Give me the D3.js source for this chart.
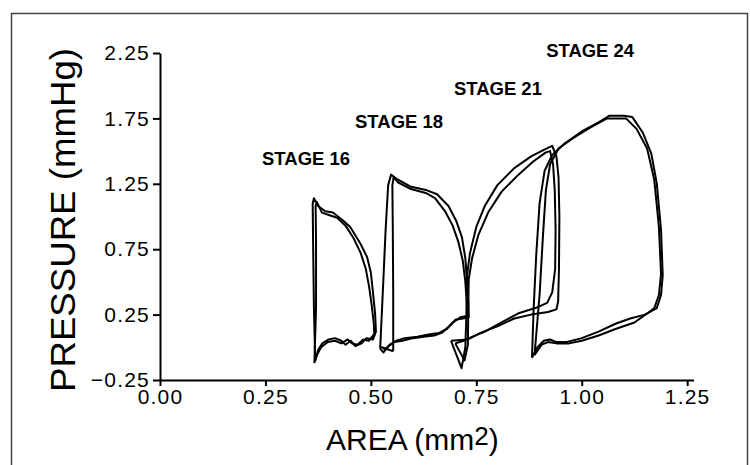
<!DOCTYPE html>
<html>
<head>
<meta charset="utf-8">
<script src="https://cdn.jsdelivr.net/npm/d3@7"></script>
<style>
  body { margin: 0; background: #fff; }
  svg { display: block; }
  .tick text { font-family: "Liberation Sans", Arial, sans-serif; font-size: 21px; letter-spacing: 1.2px; }
</style>
</head>
<body>
<div id="chart"></div>
<script>
// values: [area (mm2), pressure (mmHg)]
const stage16a = [[0.368,-0.10],[0.365,0.30],[0.363,0.80],[0.362,1.10],[0.365,1.14],[0.375,1.08],[0.392,1.04],[0.410,1.03],[0.434,0.97],[0.451,0.92],[0.474,0.80],[0.491,0.69],[0.500,0.57],[0.505,0.42],[0.510,0.26],[0.512,0.12],[0.505,0.06],[0.490,0.07],[0.478,0.03],[0.463,0.01],[0.452,0.05],[0.440,0.02],[0.430,0.05],[0.415,0.07],[0.400,0.06],[0.385,0.03],[0.375,-0.02],[0.368,-0.10]];
const stage16b = [[0.366,-0.12],[0.370,0.30],[0.370,0.80],[0.369,1.08],[0.372,1.11],[0.384,1.03],[0.402,1.01],[0.420,0.99],[0.440,0.93],[0.458,0.84],[0.476,0.72],[0.488,0.60],[0.496,0.46],[0.502,0.32],[0.507,0.18],[0.508,0.10],[0.495,0.05],[0.482,0.06],[0.468,0.02],[0.455,0.03],[0.445,0.06],[0.430,0.03],[0.415,0.05],[0.398,0.04],[0.382,0.00],[0.372,-0.06],[0.366,-0.12]];

const stage18a = [[0.522,-0.01],[0.528,0.40],[0.535,0.90],[0.541,1.24],[0.548,1.32],[0.560,1.29],[0.593,1.23],[0.633,1.20],[0.657,1.17],[0.684,1.08],[0.702,0.97],[0.716,0.84],[0.724,0.68],[0.728,0.50],[0.731,0.35],[0.732,0.23],[0.718,0.22],[0.700,0.21],[0.685,0.16],[0.668,0.11],[0.650,0.09],[0.625,0.08],[0.600,0.07],[0.575,0.05],[0.555,0.04],[0.538,0.00],[0.530,-0.04],[0.522,-0.01]];
const stage18b = [[0.553,-0.03],[0.553,0.40],[0.552,0.90],[0.551,1.24],[0.554,1.30],[0.565,1.26],[0.595,1.21],[0.630,1.18],[0.652,1.14],[0.676,1.04],[0.694,0.93],[0.708,0.80],[0.718,0.66],[0.724,0.50],[0.727,0.36],[0.728,0.24],[0.712,0.23],[0.695,0.19],[0.680,0.14],[0.662,0.11],[0.640,0.10],[0.610,0.08],[0.580,0.07],[0.560,0.05],[0.545,0.02],[0.535,-0.02],[0.526,0.00],[0.553,-0.03]];

const stage21a = [[0.690,0.05],[0.715,-0.16],[0.724,0.00],[0.727,0.30],[0.728,0.55],[0.735,0.72],[0.750,0.92],[0.770,1.08],[0.800,1.24],[0.840,1.37],[0.880,1.46],[0.910,1.51],[0.930,1.54],[0.940,1.46],[0.945,1.30],[0.947,1.00],[0.946,0.60],[0.944,0.35],[0.940,0.29],[0.920,0.27],[0.880,0.25],[0.840,0.22],[0.800,0.16],[0.760,0.11],[0.730,0.06],[0.690,0.05]];
const stage21b = [[0.700,0.03],[0.722,-0.10],[0.730,0.02],[0.731,0.30],[0.732,0.52],[0.740,0.68],[0.755,0.86],[0.778,1.03],[0.810,1.19],[0.850,1.32],[0.885,1.42],[0.915,1.49],[0.925,1.50],[0.932,1.40],[0.936,1.20],[0.938,0.90],[0.937,0.60],[0.930,0.42],[0.918,0.34],[0.890,0.30],[0.850,0.26],[0.810,0.19],[0.770,0.12],[0.740,0.08],[0.720,0.05],[0.700,0.03]];

const stage24a = [[0.882,-0.08],[0.886,0.30],[0.892,0.70],[0.900,1.10],[0.912,1.35],[0.930,1.47],[0.960,1.56],[1.000,1.65],[1.040,1.72],[1.065,1.77],[1.100,1.77],[1.120,1.76],[1.145,1.64],[1.165,1.48],[1.178,1.25],[1.188,0.90],[1.192,0.55],[1.188,0.40],[1.178,0.30],[1.150,0.25],[1.115,0.22],[1.080,0.18],[1.040,0.12],[1.000,0.07],[0.965,0.04],[0.940,0.04],[0.925,0.06],[0.910,0.05],[0.895,0.00],[0.882,-0.08]];
const stage24b = [[0.888,-0.06],[0.900,0.40],[0.908,0.85],[0.915,1.20],[0.925,1.40],[0.945,1.52],[0.980,1.60],[1.020,1.68],[1.060,1.75],[1.105,1.75],[1.130,1.67],[1.155,1.52],[1.172,1.28],[1.183,0.92],[1.188,0.56],[1.183,0.40],[1.172,0.30],[1.160,0.27],[1.125,0.19],[1.080,0.14],[1.040,0.09],[1.000,0.05],[0.970,0.03],[0.940,0.03],[0.920,0.04],[0.905,0.02],[0.888,-0.06]];

const traces = [stage16a, stage16b, stage18a, stage18b, stage21a, stage21b, stage24a, stage24b];

const stageNames = ["STAGE 16", "STAGE 18", "STAGE 21", "STAGE 24"];
const labelAnchors = [[0.242,1.394],[0.4625,1.677],[0.697,1.929],[0.9156,2.219]];

const xTicks = [0, 0.25, 0.5, 0.75, 1.0, 1.25];
const yTicks = [-0.25, 0.25, 0.75, 1.25, 1.75, 2.25];

const W = 750, H = 465;

const svg = d3.select("#chart").append("svg")
    .attr("width", W)
    .attr("height", H);

// outer frame
svg.append("rect")
    .attr("x", 11.5).attr("y", 13.5)
    .attr("width", 736).attr("height", 470)
    .attr("fill", "none")
    .attr("stroke", "#444")
    .attr("stroke-width", 1.5);

const x = d3.scaleLinear().domain([0, 1.265]).range([160, 693.5]);
const y = d3.scaleLinear().domain([-0.25, 2.25]).range([380, 53]);

const xAxis = d3.axisBottom(x).tickValues(xTicks).tickFormat(d3.format(".2f")).tickSizeInner(6).tickSizeOuter(0).tickPadding(3);
const yAxis = d3.axisLeft(y).tickValues(yTicks).tickFormat(d3.format(".2f")).tickSizeInner(7).tickSizeOuter(0).tickPadding(3);

const gx = svg.append("g")
    .attr("transform", `translate(0,${y(-0.25)})`)
    .call(xAxis);
const gy = svg.append("g")
    .attr("transform", `translate(${x(0)},0)`)
    .call(yAxis);

[gx, gy].forEach(g => {
    g.selectAll("path, line").attr("stroke", "#000").attr("stroke-width", 2);
    g.selectAll("text").attr("fill", "#000");
});

// loops
const line = d3.line().x(d => x(d[0])).y(d => y(d[1])).curve(d3.curveLinear);
svg.append("g").selectAll("path")
    .data(traces)
    .enter()
    .append("path")
    .attr("d", line)
    .attr("fill", "none")
    .attr("stroke", "#000")
    .attr("stroke-width", 2)
    .attr("stroke-linejoin", "round");

// stage labels
svg.append("g").selectAll("text")
    .data(stageNames)
    .enter()
    .append("text")
    .attr("x", (d, i) => x(labelAnchors[i][0]))
    .attr("y", (d, i) => y(labelAnchors[i][1]))
    .attr("font-family", "'Liberation Sans Narrow', 'Liberation Sans', Arial, sans-serif")
    .attr("font-size", 18)
    .attr("font-weight", "bold")
    .attr("textLength", 88)
    .attr("lengthAdjust", "spacingAndGlyphs")
    .attr("fill", "#000")
    .text(d => d);

// axis titles
svg.append("text")
    .attr("transform", `translate(75,220) rotate(-90)`)
    .attr("text-anchor", "middle")
    .attr("font-family", "'Liberation Sans', Arial, sans-serif")
    .attr("font-size", 35)
    .attr("textLength", 344)
    .attr("lengthAdjust", "spacingAndGlyphs")
    .attr("fill", "#000")
    .text("PRESSURE (mmHg)");

const xt = svg.append("text")
    .attr("x", 326)
    .attr("y", 450)
    .attr("font-family", "'Liberation Sans', Arial, sans-serif")
    .attr("font-size", 30)
    .attr("fill", "#000");
xt.append("tspan").text("AREA (mm");
xt.append("tspan").attr("font-size", 26).attr("dy", -5).text("2");
xt.append("tspan").attr("dy", 5).text(")");
</script>
</body>
</html>
